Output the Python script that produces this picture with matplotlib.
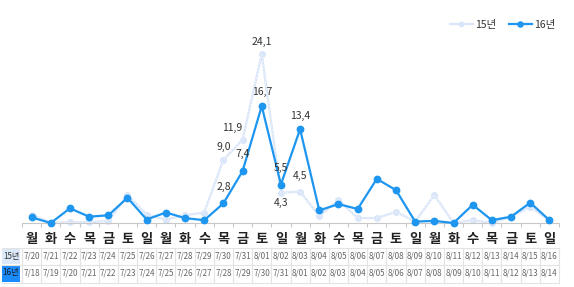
import matplotlib
matplotlib.use("Agg")
import matplotlib.pyplot as plt
from matplotlib.transforms import blended_transform_factory
from matplotlib.patches import Rectangle

plt.rcParams["font.family"] = ["Noto Sans CJK KR", "DejaVu Sans"]

# Data
weekdays = ["월", "화", "수", "목", "금", "토", "일"] * 4
dates_15 = ["7/20", "7/21", "7/22", "7/23", "7/24", "7/25", "7/26", "7/27", "7/28", "7/29",
            "7/30", "7/31", "8/01", "8/02", "8/03", "8/04", "8/05", "8/06", "8/07", "8/08",
            "8/09", "8/10", "8/11", "8/12", "8/13", "8/14", "8/15", "8/16"]
dates_16 = ["7/18", "7/19", "7/20", "7/21", "7/22", "7/23", "7/24", "7/25", "7/26", "7/27",
            "7/28", "7/29", "7/30", "7/31", "8/01", "8/02", "8/03", "8/04", "8/05", "8/06",
            "8/07", "8/08", "8/09", "8/10", "8/11", "8/12", "8/13", "8/14"]
vals_15 = [1.2, 0.0, 0.1, 0.1, 0.3, 4.0, 1.2, 0.5, 1.1, 1.5,
           9.0, 11.9, 24.1, 4.3, 4.5, 1.0, 3.3, 0.7, 0.7, 1.6,
           0.2, 4.0, 0.0, 0.4, 0.0, 0.9, 2.3, 0.4]
vals_16 = [0.8, 0.0, 2.1, 0.9, 1.1, 3.6, 0.5, 1.5, 0.7, 0.4,
           2.8, 7.4, 16.7, 5.5, 13.4, 1.8, 2.7, 2.0, 6.3, 4.7,
           0.2, 0.3, 0.0, 2.6, 0.4, 0.9, 2.9, 0.4]
labels_15 = {10: "9,0", 11: "11,9", 12: "24,1", 13: "4,3", 14: "4,5"}
labels_16 = {10: "2,8", 11: "7,4", 12: "16,7", 13: "5,5", 14: "13,4"}

BLUE = "#1e96f0"
LIGHT = "#d9e5f8"
TEXT = "#333333"
GRID = "#e3e3e3"

W_PX, H_PX = 574, 287
fig = plt.figure(figsize=(W_PX / 100, H_PX / 100), dpi=100)
fig.patch.set_facecolor("white")

n = len(vals_16)
x = list(range(n))
# axes placement in pixels: x=-0.5 at 22px, x=27.5 at 559px; y=0 at 223px, top at 20px
ax = fig.add_axes([22 / W_PX, 1 - 223 / H_PX, (559 - 22) / W_PX, (223 - 20) / H_PX])
ax.set_xlim(-0.5, n - 0.5)
ax.set_ylim(0, 29)

ax.plot(x, vals_15, color=LIGHT, lw=1.6, marker="o", ms=4, mfc=LIGHT, mec=LIGHT,
        clip_on=False, zorder=2, label="15년")
ax.plot(x, vals_15, color="white", lw=0.5, ls=(0, (2, 3)), clip_on=False, zorder=2.1)
ax.plot(x, vals_16, color=BLUE, lw=1.6, marker="o", ms=4.6, mfc=BLUE, mec=BLUE,
        clip_on=False, zorder=3, label="16년")

# data labels
off15 = {10: (0, 13), 11: (-10, 12), 12: (0, 12), 13: (0, -10), 14: (0, 16)}
off16 = {10: (0, 16), 11: (0, 17), 12: (0, 14), 13: (0, 17), 14: (0, 13)}
for i, s in labels_15.items():
    dx, dy = off15[i]
    ax.annotate(s, (i, vals_15[i]), xytext=(dx * 0.72, dy * 0.72), textcoords="offset points",
                ha="center", va="center", fontsize=7.5, color=TEXT)
for i, s in labels_16.items():
    dx, dy = off16[i]
    ax.annotate(s, (i, vals_16[i]), xytext=(dx * 0.72, dy * 0.72), textcoords="offset points",
                ha="center", va="center", fontsize=7.5, color=TEXT)

for side in ["top", "right", "left"]:
    ax.spines[side].set_visible(False)
ax.spines["bottom"].set_color("#c8c8c8")
ax.set_yticks([])
ax.set_xticks([i - 0.5 for i in range(n + 1)])
ax.set_xticklabels([])
ax.tick_params(axis="x", length=3, color="#c8c8c8")

leg = ax.legend(loc="upper right", bbox_to_anchor=(1.0, 1.02), ncol=2, frameon=False,
                fontsize=7.5, handlelength=2.2, columnspacing=1.2, handletextpad=0.2,
                borderaxespad=0, markerscale=0.8)
for t in leg.get_texts():
    t.set_color(TEXT)

# table below
tr = blended_transform_factory(ax.transData, fig.transFigure)
def fy(py):
    return 1 - py / H_PX

for i in range(n):
    ax.text(i, fy(239), weekdays[i], transform=tr, ha="center", va="center",
            fontsize=9.5, fontweight="bold", color="#222222", clip_on=False)
    ax.text(i, fy(256), dates_15[i], transform=tr, ha="center", va="center",
            fontsize=5.8, color="#666666", clip_on=False)
    ax.text(i, fy(273), dates_16[i], transform=tr, ha="center", va="center",
            fontsize=5.8, color="#666666", clip_on=False)

figt = fig.transFigure
for py in [247.5, 264.5, 282.5]:
    fig.add_artist(plt.Line2D([2 / W_PX, 559 / W_PX], [fy(py), fy(py)], color=GRID, lw=0.8))
for i in range(n + 1):
    ax.plot([i - 0.5, i - 0.5], [fy(247.5), fy(282.5)], transform=tr, color=GRID, lw=0.8,
            clip_on=False)

fig.add_artist(Rectangle((2 / W_PX, fy(264)), 18 / W_PX, 16 / H_PX, transform=figt,
                         facecolor="#dce9f8", edgecolor="none"))
fig.add_artist(Rectangle((2 / W_PX, fy(282)), 18 / W_PX, 17 / H_PX, transform=figt,
                         facecolor="#1a8cff", edgecolor="none"))
fig.text(11 / W_PX, fy(256), "15년", ha="center", va="center", fontsize=5.8, color="#333333")
fig.text(11 / W_PX, fy(273), "16년", ha="center", va="center", fontsize=5.8, color="#1a1a1a")

fig.savefig("out.png", dpi=100)
